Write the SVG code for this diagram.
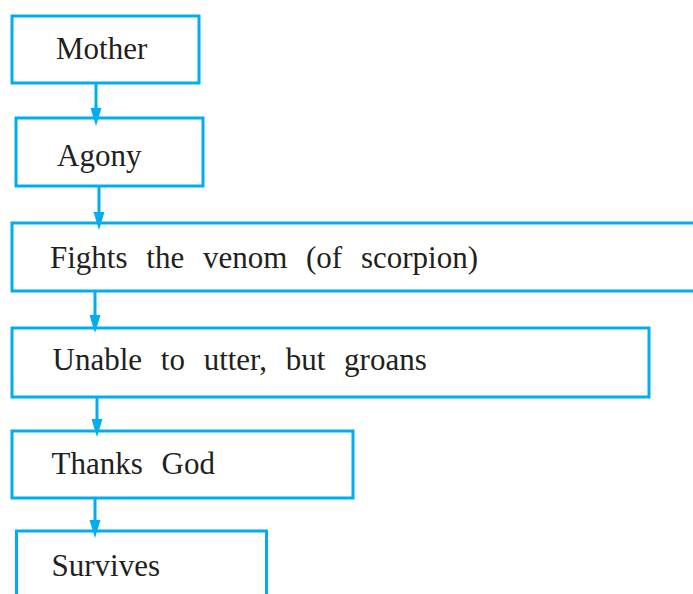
<svg xmlns="http://www.w3.org/2000/svg" width="693" height="594" viewBox="0 0 693 594">
<style>
.box{fill:#fff;stroke:#00aeef;stroke-width:3}
.lbl{font-family:"Liberation Serif","Times New Roman",serif;font-size:31px;fill:#231f20;word-spacing:11px}
.ln{stroke:#00aeef;stroke-width:3;fill:none}
.hd{fill:#00aeef}
</style>
<rect width="693" height="594" fill="#fff"/>
<g id="n1"><rect class="box" x="12" y="16" width="187" height="67"/><text class="lbl" x="56" y="59">Mother</text></g>
<g id="n2"><rect class="box" x="16" y="118" width="187" height="68"/><text class="lbl" x="57" y="166">Agony</text></g>
<g id="n3"><rect class="box" x="12" y="223" width="700" height="68"/><text class="lbl" x="50" y="268">Fights the venom (of scorpion)</text></g>
<g id="n4"><rect class="box" x="12" y="328" width="637" height="69"/><text class="lbl" x="52.5" y="370">Unable to utter, but groans</text></g>
<g id="n5"><rect class="box" x="12" y="431" width="341" height="67"/><text class="lbl" x="51.5" y="474">Thanks God</text></g>
<g id="n6"><rect class="box" x="16.5" y="531" width="250" height="80"/><text class="lbl" x="51.5" y="576">Survives</text></g>
<g id="connectors">
<line class="ln" x1="96" y1="83" x2="96" y2="110"/><polygon class="hd" points="90.5,108 101.5,108 96,126"/>
<line class="ln" x1="99" y1="186" x2="99" y2="214"/><polygon class="hd" points="93.5,212 104.5,212 99,230"/>
<line class="ln" x1="95" y1="291" x2="95" y2="317"/><polygon class="hd" points="89.5,315 100.5,315 95,333"/>
<line class="ln" x1="97" y1="397" x2="97" y2="421"/><polygon class="hd" points="91.5,419 102.5,419 97,437"/>
<line class="ln" x1="95" y1="498" x2="95" y2="522"/><polygon class="hd" points="89.5,520 100.5,520 95,538"/>
</g>
</svg>
